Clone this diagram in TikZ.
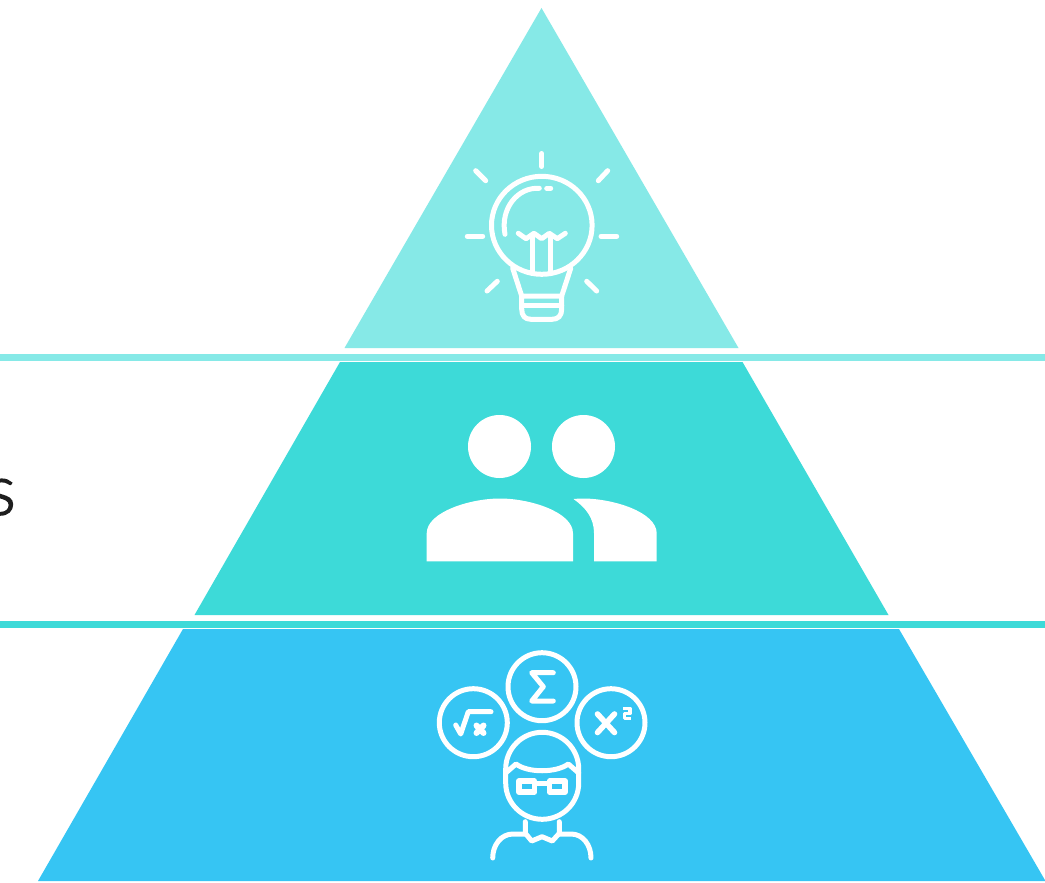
\documentclass[tikz,border=0pt]{standalone}
\usepackage{fontspec}
\setmainfont{Lato}[UprightFont={* Light},FakeBold=2]
\definecolor{tierA}{HTML}{86E9E7}
\definecolor{tierB}{HTML}{3DDAD8}
\definecolor{tierC}{HTML}{36C5F3}
\definecolor{inkc}{HTML}{1E1E1E}
\tikzset{
  icon/.style={draw=white,line width=5pt,line cap=round,line join=round,fill=none},
  glyphfill/.style={fill=white,draw=none}
}
\begin{document}
\begin{tikzpicture}[x=1pt,y=-1pt]
\useasboundingbox (0,0) rectangle (1045,883);
\clip (0,0) rectangle (1045,883);
\fill[white] (0,0) rectangle (1045,883);
% tiers
\fill[tierA] (541.5,8) -- (738.5,348) -- (344.5,348) -- cycle;
\fill[tierB] (340,362) -- (742.5,362) -- (888.5,615) -- (194.5,615) -- cycle;
\fill[tierC] (183,629) -- (899,629) -- (1045.5,881) -- (38,881) -- cycle;
\fill[tierA] (0,354) rectangle (1045,361);
\fill[tierB] (0,621) rectangle (1045,628);
% clipped label
\node[anchor=base east,inner sep=0pt,text=inkc,font=\fontsize{70}{70}\selectfont] (lbl) at (16,514.5) {s};
% bulb
\begin{scope}[icon]
\draw (541.7,153.5) -- (541.7,166.5);
\draw (475.7,170.7) -- (485.7,180.7);
\draw (607.7,170.7) -- (598.3,180.7);
\draw (467.3,236.3) -- (482.7,236.3);
\draw (601,236.3) -- (616.7,236.3);
\draw (497.3,281.3) -- (487,291);
\draw (586.7,281.3) -- (596.7,291);
\draw (541.8,225.3) circle[x radius=50.3,y radius=49];
\draw (505,234.3) .. controls (500,208) and (518,187) .. (539.3,188.3);
\draw (546.7,188.3) -- (550.7,188.3);
\draw (518.3,233.3) -- (526,238.7) -- (534,233.3) -- (541.7,238.7) -- (549.3,233.3) -- (557.3,238.7) -- (565.3,233.3);
\draw (532.7,236) -- (532.7,272);
\draw (550.3,236) -- (550.3,272);
\draw (512.7,268.3) -- (521.7,296);
\draw (570.7,268.3) -- (561.7,296);
\draw (521.7,296) -- (561.7,296) -- (561.7,309) .. controls (561.7,316) and (558,319.3) .. (552,319.3) -- (531,319.3) .. controls (525,319.3) and (521.7,316) .. (521.7,309) -- cycle;
\draw (521.7,305.7) -- (561.7,305.7);
\end{scope}
% people
\fill[glyphfill] (499.5,446.5) circle[radius=31.5];
\fill[glyphfill] (583.5,446.5) circle[radius=31.5];
\fill[glyphfill] (426.7,561.3) -- (426.7,533.3) .. controls (426.7,512) and (470,498.5) .. (500,498.5) .. controls (530,498.5) and (573,512) .. (573,533.3) -- (573,561.3) -- cycle;
\fill[glyphfill] (573.5,499) .. controls (586,508) and (594,518) .. (594,533.3) -- (594,561.3) -- (656.7,561.3) -- (656.7,533.3) .. controls (656.7,512) and (613,498.5) .. (583,498.5) .. controls (580,498.5) and (577,498.7) .. (573.5,499) -- cycle;
% math
\begin{scope}[icon]
\draw (542,686.7) circle[radius=34];
\draw (473.3,722.7) circle[radius=34];
\draw (611,722.7) circle[radius=34];
\draw (553.3,672.7) -- (531.7,672.7) -- (543.3,686.7) -- (531.7,701) -- (553.3,701);
\draw (455.7,725) -- (460.7,734) -- (468.3,711.7) -- (491,711.7);
\draw[line width=6pt] (476.5,725.5) -- (483.5,733);
\draw[line width=6pt] (483.5,725.5) -- (476.5,733);
\draw[line width=5.6pt] (597.5,714) -- (614.5,732.5);
\draw[line width=5.6pt] (614.5,714) -- (597.5,732.5);
\draw[line width=3.8pt,line cap=butt] (623,708.5) -- (630,708.5) -- (630,713.5) -- (624.5,713.5) -- (624.5,718.5) -- (631,718.5);
\draw (505.7,769) arc[start angle=180,end angle=360,x radius=36.5,y radius=36.7] -- (578.7,783) arc[start angle=0,end angle=180,x radius=36.5,y radius=36.3] -- cycle;
\draw (505.7,773) -- (516,764) .. controls (528,773) and (556,773) .. (568.3,764) -- (578.7,773);
\draw[line width=5.7pt] (518.8,781.3) rectangle (534.5,792);
\draw[line width=5.7pt] (549.5,781.3) rectangle (565.2,792);
\draw[line width=5pt] (534.5,783.3) -- (549.5,783.3);
\draw (525.3,821.7) -- (525.3,833.3) -- (531.7,841) -- (542,836.7) -- (552.3,841) -- (559.3,833.3) -- (559.3,821.7);
\draw (525.3,834) -- (513,834) .. controls (501,834) and (492.7,845) .. (492.7,858);
\draw (559.3,834) -- (571,834) .. controls (583,834) and (591,845) .. (591,858);
\end{scope}
\end{tikzpicture}
\end{document}
